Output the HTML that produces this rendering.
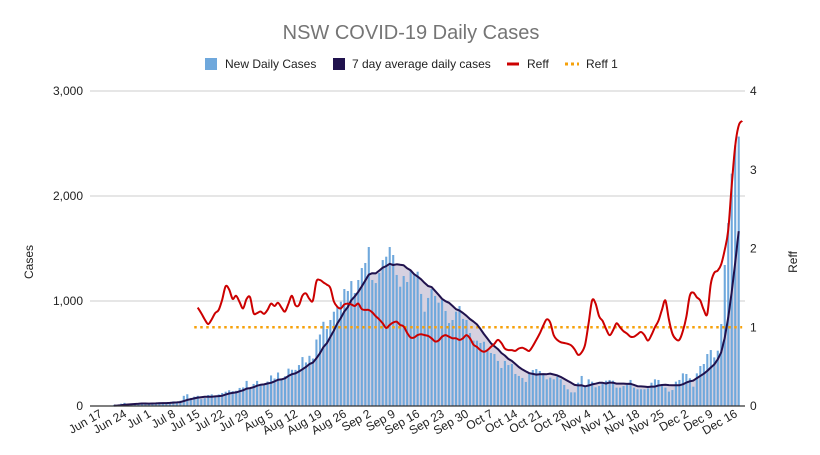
<!DOCTYPE html>
<html><head><meta charset="utf-8"><style>
body{margin:0;background:#fff;}
svg text{font-family:"Liberation Sans",Arial,sans-serif;}
</style></head><body>
<svg id="chart" width="820" height="450" xmlns="http://www.w3.org/2000/svg">
<rect width="820" height="450" fill="#fff"/>
<text x="411" y="39" text-anchor="middle" font-size="20" fill="#757575">NSW COVID-19 Daily Cases</text>
<g font-size="12" fill="#222">
 <g><rect x="205" y="58" width="12" height="12" fill="#6fa8dc"/><text x="225" y="68">New Daily Cases</text></g>
 <g><rect x="333" y="58" width="12" height="12" fill="#20124d"/><text x="352" y="68">7 day average daily cases</text></g>
 <g><line x1="507" y1="64" x2="519" y2="64" stroke="#cc0000" stroke-width="3"/><text x="527" y="68">Reff</text></g>
 <g><line x1="565" y1="64" x2="579" y2="64" stroke="#f6a10a" stroke-width="3" stroke-dasharray="3,3"/><text x="586" y="68">Reff 1</text></g>
</g>
<text transform="translate(33,262) rotate(-90)" text-anchor="middle" font-size="12" fill="#222">Cases</text>
<text transform="translate(797,262) rotate(-90)" text-anchor="middle" font-size="12" fill="#222">Reff</text>
<g id="grid"></g><g id="area"></g><g id="bars"></g><g id="lines"></g><g id="axes"></g>
</svg>
<script>
const caseTicks=[0,1000,2000,3000];
const caseTickLabels=["0","1,000","2,000","3,000"];
const reffTicks=[0,1,2,3,4];
const dateLabels=["Jun 17","Jun 24","Jul 1","Jul 8","Jul 15","Jul 22","Jul 29","Aug 5","Aug 12","Aug 19","Aug 26","Sep 2","Sep 9","Sep 16","Sep 23","Sep 30","Oct 7","Oct 14","Oct 21","Oct 28","Nov 4","Nov 11","Nov 18","Nov 25","Dec 2","Dec 9","Dec 16"];
const newCases=[0,0,3,5,11,10,22,
30,18,24,20,25,30,22,
24,22,31,35,27,30,38,
44,38,50,97,112,77,89,
97,65,75,105,111,98,110,
124,136,150,141,145,172,177,
239,170,210,239,207,199,233,
291,262,319,262,283,356,345,
344,390,466,415,478,452,633,681,
802,733,819,898,943,993,1114,1095,1190,1076,1200,1314,1362,1514,1200,1171,1267,1390,1422,1514,1438,1248,1136,1238,1181,1295,1248,1279,1067,898,1029,1114,1048,984,1010,905,790,819,898,952,829,819,695,622,622,600,612,533,505,495,429,362,429,390,400,305,286,267,229,
311,343,352,333,295,254,270,254,279,254,200,159,130,130,222,286,184,254,232,178,190,222,241,248,241,175,175,190,200,248,175,159,159,159,168,222,254,248,190,175,137,152,232,248,311,305,264,184,311,381,400,495,533,463,527,781,1343,1742,2213,2482,2566];
const reffStartDay=28;
const reff=[1.25,1.18,1.10,1.04,1.10,1.18,1.22,1.35,1.52,1.48,1.36,1.40,1.32,1.24,1.36,1.38,1.18,1.18,1.20,1.17,1.22,1.30,1.27,1.31,1.25,1.20,1.30,1.40,1.28,1.28,1.40,1.43,1.36,1.34,1.58,1.60,
1.57,1.54,1.50,1.33,1.26,1.24,1.29,1.30,1.29,1.27,1.30,1.23,1.22,1.22,1.19,1.14,1.10,1.05,0.99,1.03,1.06,1.07,1.03,1.01,0.93,0.87,0.87,0.90,0.91,0.90,0.89,0.86,0.82,0.83,0.88,0.90,0.88,0.86,0.86,0.84,0.86,0.90,0.86,0.78,0.75,0.71,0.69,0.71,0.75,0.79,0.84,0.80,0.73,0.71,0.71,0.70,0.73,0.74,0.72,0.70,0.76,0.84,0.92,1.02,1.10,1.06,0.90,0.84,0.81,0.80,0.79,0.77,0.72,0.65,0.68,0.78,1.05,1.34,1.30,1.14,1.08,0.98,0.90,0.96,1.05,1.00,0.95,0.92,0.88,0.88,0.91,0.94,0.90,0.83,0.90,1.00,1.08,1.22,1.34,1.10,0.92,0.85,0.84,0.95,1.13,1.40,1.44,1.38,1.34,1.22,1.17,1.55,1.69,1.72,1.80,1.98,2.23,2.80,3.30,3.56,3.62];
const reffOneStart=27, reffOneEnd=184;

const NS="http://www.w3.org/2000/svg";
const X0=100,DX=3.49,YB=406,YT=91;
const xs=d=>X0+d*DX;
const yc=v=>YB-(v/3000)*(YB-YT);
const yr=v=>YB-(v/4)*(YB-YT);
function mk(tag,attrs,parent){const e=document.createElementNS(NS,tag);for(const k in attrs)e.setAttribute(k,attrs[k]);parent.appendChild(e);return e;}
const grid=document.getElementById('grid'),axes=document.getElementById('axes');
caseTicks.forEach((t,i)=>{
 if(t>0){const g=mk('line',{x1:90,x2:745,y1:yc(t),y2:yc(t),stroke:'#cccccc','stroke-width':1},grid);
 
 }
 const l=mk('text',{x:83,y:yc(t)+4,'text-anchor':'end','font-size':12,fill:'#222'},axes);
 l.textContent=caseTickLabels[i];
 
 
});
reffTicks.forEach(t=>{
 const l=mk('text',{x:750,y:yr(t)+4,'font-size':12,fill:'#222'},axes);
 l.textContent=String(t);
 
 
});
const base=mk('line',{x1:90,x2:745,y1:YB,y2:YB,stroke:'#333','stroke-width':1.3},axes);


dateLabels.forEach((s,i)=>{
 const x=xs(i*7)+3;
 const l=mk('text',{transform:`translate(${x},416) rotate(-30)`,'text-anchor':'end','font-size':12,fill:'#222'},axes);
 l.textContent=s;
 
 
});
// 7-day average
const avg=newCases.map((v,i)=>{const s=newCases.slice(Math.max(0,i-6),i+1);return s.reduce((a,b)=>a+b,0)/s.length;});
const avgStart=4;
let pts=[];for(let d=avgStart;d<avg.length;d++)pts.push(xs(d).toFixed(1)+','+yc(avg[d]).toFixed(1));
const area=mk('polygon',{points:xs(avgStart)+','+YB+' '+pts.join(' ')+' '+xs(avg.length-1)+','+YB,fill:'#d6d1e0'},document.getElementById('area'));


const bars=document.getElementById('bars');
newCases.forEach((v,d)=>{
 const b=mk('rect',{x:(xs(d)-1).toFixed(2),y:yc(v).toFixed(2),width:2.1,height:(YB-yc(v)).toFixed(2),fill:'#6fa8dc'},bars);
 
 
});
const lines=document.getElementById('lines');
const r1=mk('line',{x1:xs(reffOneStart),x2:xs(reffOneEnd),y1:yr(1),y2:yr(1),stroke:'#f6a10a','stroke-width':2.5,'stroke-dasharray':'2.5,3.5'},lines);


const al=mk('polyline',{points:pts.join(' '),fill:'none',stroke:'#20124d','stroke-width':2,'stroke-linejoin':'round'},lines);


// smooth Reff path
const rp=reff.map((v,i)=>[xs(reffStartDay+i),yr(v)]);
let dstr='M'+rp[0][0].toFixed(1)+','+rp[0][1].toFixed(1);
for(let i=0;i<rp.length-1;i++){const p0=rp[Math.max(0,i-1)],p1=rp[i],p2=rp[i+1],p3=rp[Math.min(rp.length-1,i+2)];
 const c1=[p1[0]+(p2[0]-p0[0])/6,p1[1]+(p2[1]-p0[1])/6],c2=[p2[0]-(p3[0]-p1[0])/6,p2[1]-(p3[1]-p1[1])/6];
 dstr+=` C${c1[0].toFixed(1)},${c1[1].toFixed(1)} ${c2[0].toFixed(1)},${c2[1].toFixed(1)} ${p2[0].toFixed(1)},${p2[1].toFixed(1)}`;}
const rl=mk('path',{d:dstr,fill:'none',stroke:'#cc0000','stroke-width':2,'stroke-linejoin':'round'},lines);


</script>
</body></html>
